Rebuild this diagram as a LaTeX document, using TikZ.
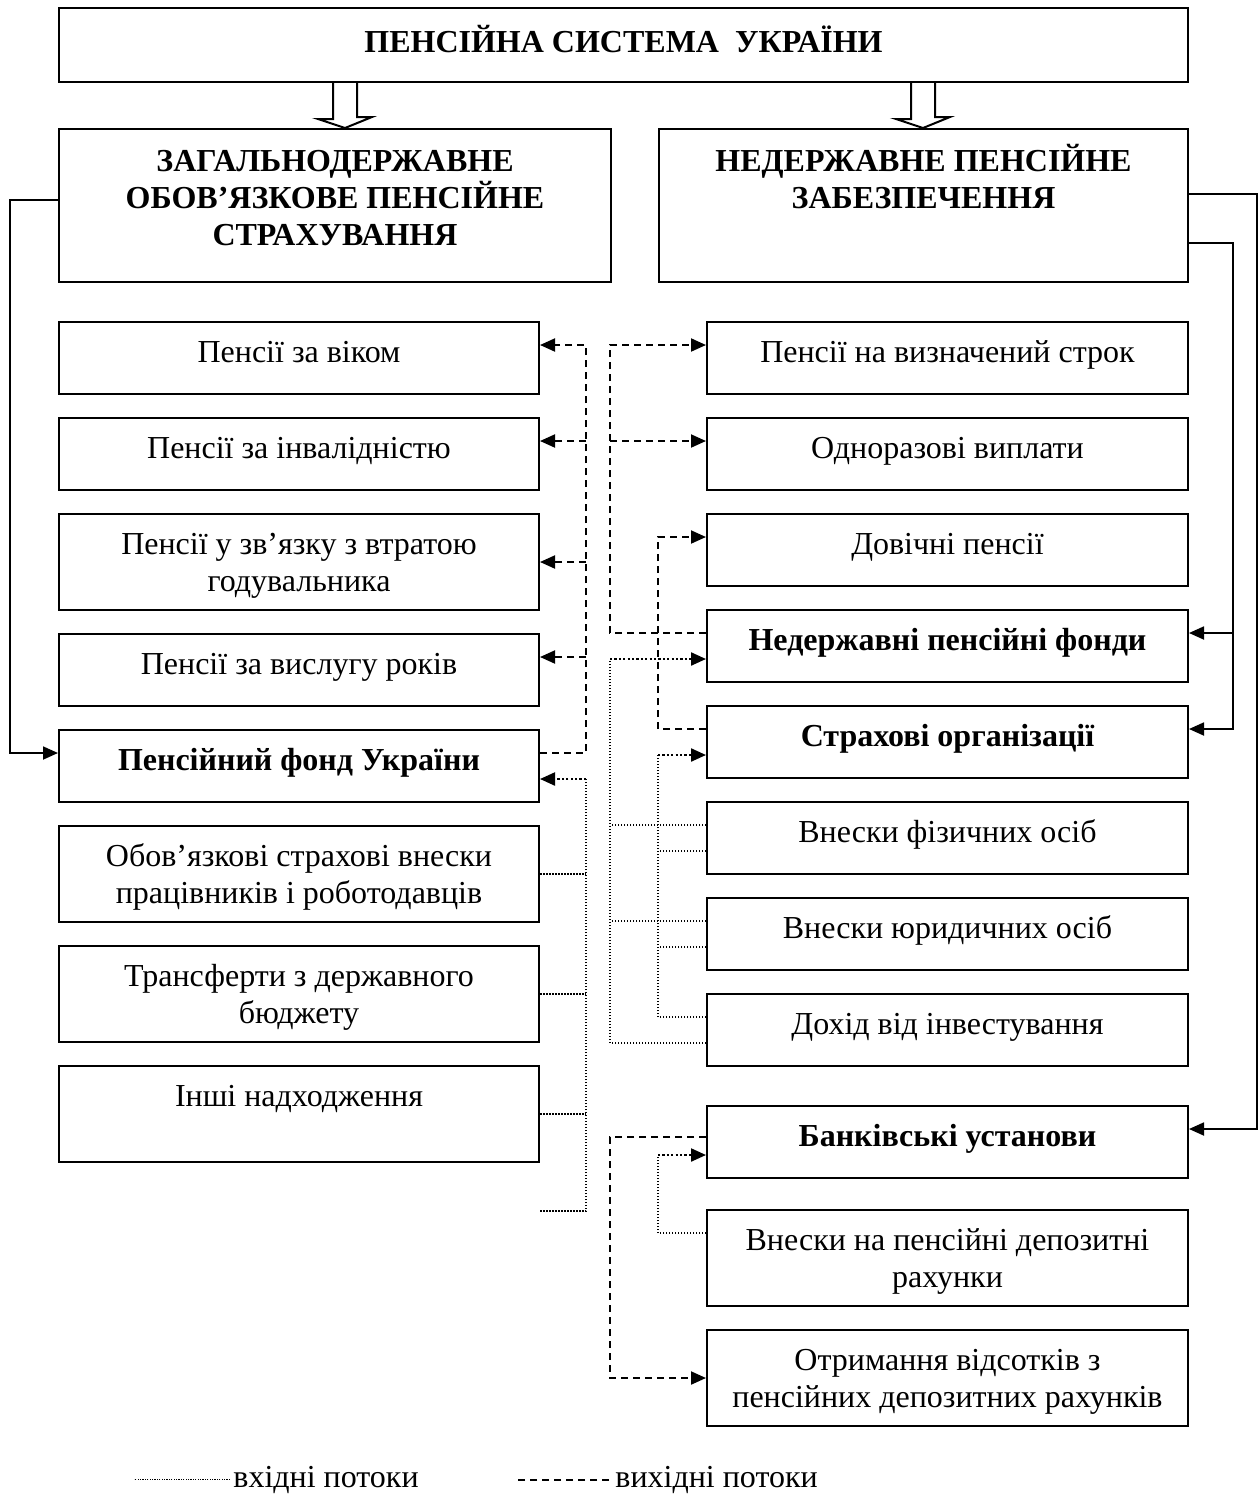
\documentclass[tikz,border=0pt]{standalone}
\usepackage{fontspec}
\setmainfont{Liberation Serif}
\usetikzlibrary{arrows.meta,calc}

% fixed-size cell: width, height, baseline of the first line from the top, text
\newcommand\cell[4]{\parbox[c][#2][t]{#1}{\centering\rule{0pt}{#3}#4\par}}

\begin{document}
\begin{tikzpicture}[x=0.5pt,y=-0.5pt,
  box/.style={draw,line width=1pt,inner sep=0pt,anchor=north west,
    font=\fontsize{16pt}{18.5pt}\selectfont},
  tip/.style={-{Triangle[length=7.5pt,width=6.5pt]}},
  outflow/.style={line width=1pt,dash pattern=on 3.5pt off 2.5pt},
  inflow/.style={line width=0.75pt,dash pattern=on 0.75pt off 0.75pt},
  inflowtip/.style={line width=1.1pt,dash pattern=on 1.1pt off 1.1pt,tip},
  link/.style={line width=0.9pt},
  hollow/.style={line width=1pt},
  legendtext/.style={inner sep=0pt,anchor=base west,font=\fontsize{16pt}{18.5pt}\selectfont},
  legenddot/.style={line width=0.6pt,dash pattern=on 0.6pt off 0.6pt}]

\useasboundingbox (0,0) rectangle (1259,1506);

% ---- top level
\node[box] (sys) at (58,7) {\cell{564.5pt}{37pt}{22pt}{\bfseries ПЕНСІЙНА СИСТЕМА\ \ УКРАЇНИ}};
\node[box] (gov) at (58,128) {\cell{276pt}{76.5pt}{21pt}{\bfseries ЗАГАЛЬНОДЕРЖАВНЕ\\ОБОВ’ЯЗКОВЕ ПЕНСІЙНЕ\\СТРАХУВАННЯ}};
\node[box] (priv) at (658,128) {\cell{264.5pt}{76.5pt}{21pt}{\bfseries НЕДЕРЖАВНЕ ПЕНСІЙНЕ\\ЗАБЕЗПЕЧЕННЯ}};

% hollow arrows from the system to its two parts
\coordinate (hxL) at (345,0);
\coordinate (hxR) at (923,0);
\foreach \hx/\tgt in {hxL/gov,hxR/priv}{
  \draw[hollow] ($(sys.south -| \hx)+(-12,0)$) -- ++(0,36) -- ++(-15,0)
    -- (\tgt.north -| \hx) -- ++(27,-11) -- ++(-15,0) -- ++(0,-36);
}

% ---- state column
\node[box] (L1) at (58,321) {\cell{240pt}{36pt}{20pt}{Пенсії за віком}};
\node[box] (L2) at (58,417) {\cell{240pt}{36pt}{20pt}{Пенсії за інвалідністю}};
\node[box] (L3) at (58,513) {\cell{240pt}{48pt}{20pt}{Пенсії у зв’язку з втратою\\годувальника}};
\node[box] (L4) at (58,633) {\cell{240pt}{36pt}{20pt}{Пенсії за вислугу років}};
\node[box] (L5) at (58,729) {\cell{240pt}{36pt}{20pt}{\bfseries Пенсійний фонд України}};
\node[box] (L6) at (58,825) {\cell{240pt}{48pt}{20pt}{Обов’язкові страхові внески\\працівників і роботодавців}};
\node[box] (L7) at (58,945) {\cell{240pt}{48pt}{20pt}{Трансферти з державного\\бюджету}};
\node[box] (L8) at (58,1065) {\cell{240pt}{48pt}{20pt}{Інші надходження}};

% ---- non-state column
\node[box] (R1) at (706,321) {\cell{240.5pt}{36pt}{20pt}{Пенсії на визначений строк}};
\node[box] (R2) at (706,417) {\cell{240.5pt}{36pt}{20pt}{Одноразові виплати}};
\node[box] (R3) at (706,513) {\cell{240.5pt}{36pt}{20pt}{Довічні пенсії}};
\node[box] (R4) at (706,609) {\cell{240.5pt}{36pt}{20pt}{\bfseries Недержавні пенсійні фонди}};
\node[box] (R5) at (706,705) {\cell{240.5pt}{36pt}{20pt}{\bfseries Страхові організації}};
\node[box] (R6) at (706,801) {\cell{240.5pt}{36pt}{20pt}{Внески фізичних осіб}};
\node[box] (R7) at (706,897) {\cell{240.5pt}{36pt}{20pt}{Внески юридичних осіб}};
\node[box] (R8) at (706,993) {\cell{240.5pt}{36pt}{20pt}{Дохід від інвестування}};
\node[box] (R9) at (706,1105) {\cell{240.5pt}{36pt}{20pt}{\bfseries Банківські установи}};
\node[box] (R10) at (706,1209) {\cell{240.5pt}{48pt}{20pt}{Внески на пенсійні депозитні\\рахунки}};
\node[box] (R11) at (706,1329) {\cell{240.5pt}{48pt}{20pt}{Отримання відсотків з\\пенсійних депозитних рахунків}};

% ---- bus lines and rails
\coordinate (busA) at (586,0);
\coordinate (busB) at (610,0);
\coordinate (busC) at (658,0);
\coordinate (railL) at (10,0);
\coordinate (railR1) at (1257,0);
\coordinate (railR2) at (1233,0);

% attachment points
\coordinate (aL1) at ([yshift=-12pt]L1.north east);
\coordinate (aL2) at ([yshift=-12pt]L2.north east);
\coordinate (aL3) at (L3.east);
\coordinate (aL4) at ([yshift=-12pt]L4.north east);
\coordinate (oL5) at ([yshift=-12pt]L5.north east);
\coordinate (iL5) at ([yshift=12pt]L5.south east);
\coordinate (wL5) at ([yshift=-12pt]L5.north west);
\coordinate (loose) at ([yshift=-24pt]L8.south east);

\coordinate (aR1) at ([yshift=-12pt]R1.north west);
\coordinate (aR2) at ([yshift=-12pt]R2.north west);
\coordinate (aR3) at ([yshift=-12pt]R3.north west);
\coordinate (oR4) at ([yshift=-12pt]R4.north west);
\coordinate (iR4) at ([yshift=12pt]R4.south west);
\coordinate (oR5) at ([yshift=-12pt]R5.north west);
\coordinate (iR5) at ([yshift=12pt]R5.south west);
\coordinate (tR6) at ([yshift=-12pt]R6.north west);
\coordinate (bR6) at ([yshift=12pt]R6.south west);
\coordinate (tR7) at ([yshift=-12pt]R7.north west);
\coordinate (bR7) at ([yshift=12pt]R7.south west);
\coordinate (tR8) at ([yshift=-12pt]R8.north west);
\coordinate (bR8) at ([yshift=12pt]R8.south west);
\coordinate (oR9) at ([yshift=-16pt]R9.north west);
\coordinate (iR9) at ([yshift=12pt]R9.south west);
\coordinate (tR10) at ([yshift=-12pt]R10.north west);
\coordinate (eR4) at ([yshift=-12pt]R4.north east);
\coordinate (eR5) at ([yshift=-12pt]R5.north east);
\coordinate (eR9) at ([yshift=-12pt]R9.north east);

% ---- solid links from the two systems to their institutions
\draw[link,tip] ([yshift=-36pt]gov.north west) -| (railL |- wL5) -- (wL5);
\draw[link,tip] ([yshift=-33pt]priv.north east) -| (railR1 |- eR9) -- (eR9);
\draw[link,tip] ([yshift=-57.5pt]priv.north east) -| (railR2 |- eR5) -- (eR5);
\draw[link,tip] (railR2 |- eR4) -- (eR4);

% ---- outgoing flows (dashed)
\draw[outflow,tip] (oL5) -| (busA |- aL1) -- (aL1);
\draw[outflow,tip] (busA |- aL2) -- (aL2);
\draw[outflow,tip] (busA |- aL3) -- (aL3);
\draw[outflow,tip] (busA |- aL4) -- (aL4);

\draw[outflow,tip] (oR4) -| (busB |- aR1) -- (aR1);
\draw[outflow,tip] (busB |- aR2) -- (aR2);
\draw[outflow,tip] (oR5) -| (busC |- aR3) -- (aR3);
\draw[outflow,tip] (oR9) -| (busB |- R11.west) -- (R11.west);

% ---- incoming flows (dotted)
\draw[inflow] (loose) -| (busA |- iL5);
\draw[inflow] (L6.east) -- (busA |- L6.east);
\draw[inflow] (L7.east) -- (busA |- L7.east);
\draw[inflow] (L8.east) -- (busA |- L8.east);
\draw[inflowtip] (busA |- iL5) -- (iL5);

\draw[inflow] (bR8) -| (busB |- iR4);
\draw[inflow] (tR6) -- (busB |- tR6);
\draw[inflow] (tR7) -- (busB |- tR7);
\draw[inflowtip] (busB |- iR4) -- (iR4);

\draw[inflow] (tR8) -| (busC |- iR5);
\draw[inflow] (bR6) -- (busC |- bR6);
\draw[inflow] (bR7) -- (busC |- bR7);
\draw[inflowtip] (busC |- iR5) -- (iR5);

\draw[inflow] (tR10) -| (busC |- iR9);
\draw[inflowtip] (busC |- iR9) -- (iR9);

% ---- legend
\node[legendtext] (lgin) at (233,1487) {вхідні потоки};
\draw[legenddot] ([xshift=-1.5pt]lgin.west) -- ++(-96,0);
\node[legendtext] (lgout) at (615,1487) {вихідні потоки};
\draw[outflow] ([xshift=-3pt]lgout.west) -- ++(-92,0);

\end{tikzpicture}
\end{document}
